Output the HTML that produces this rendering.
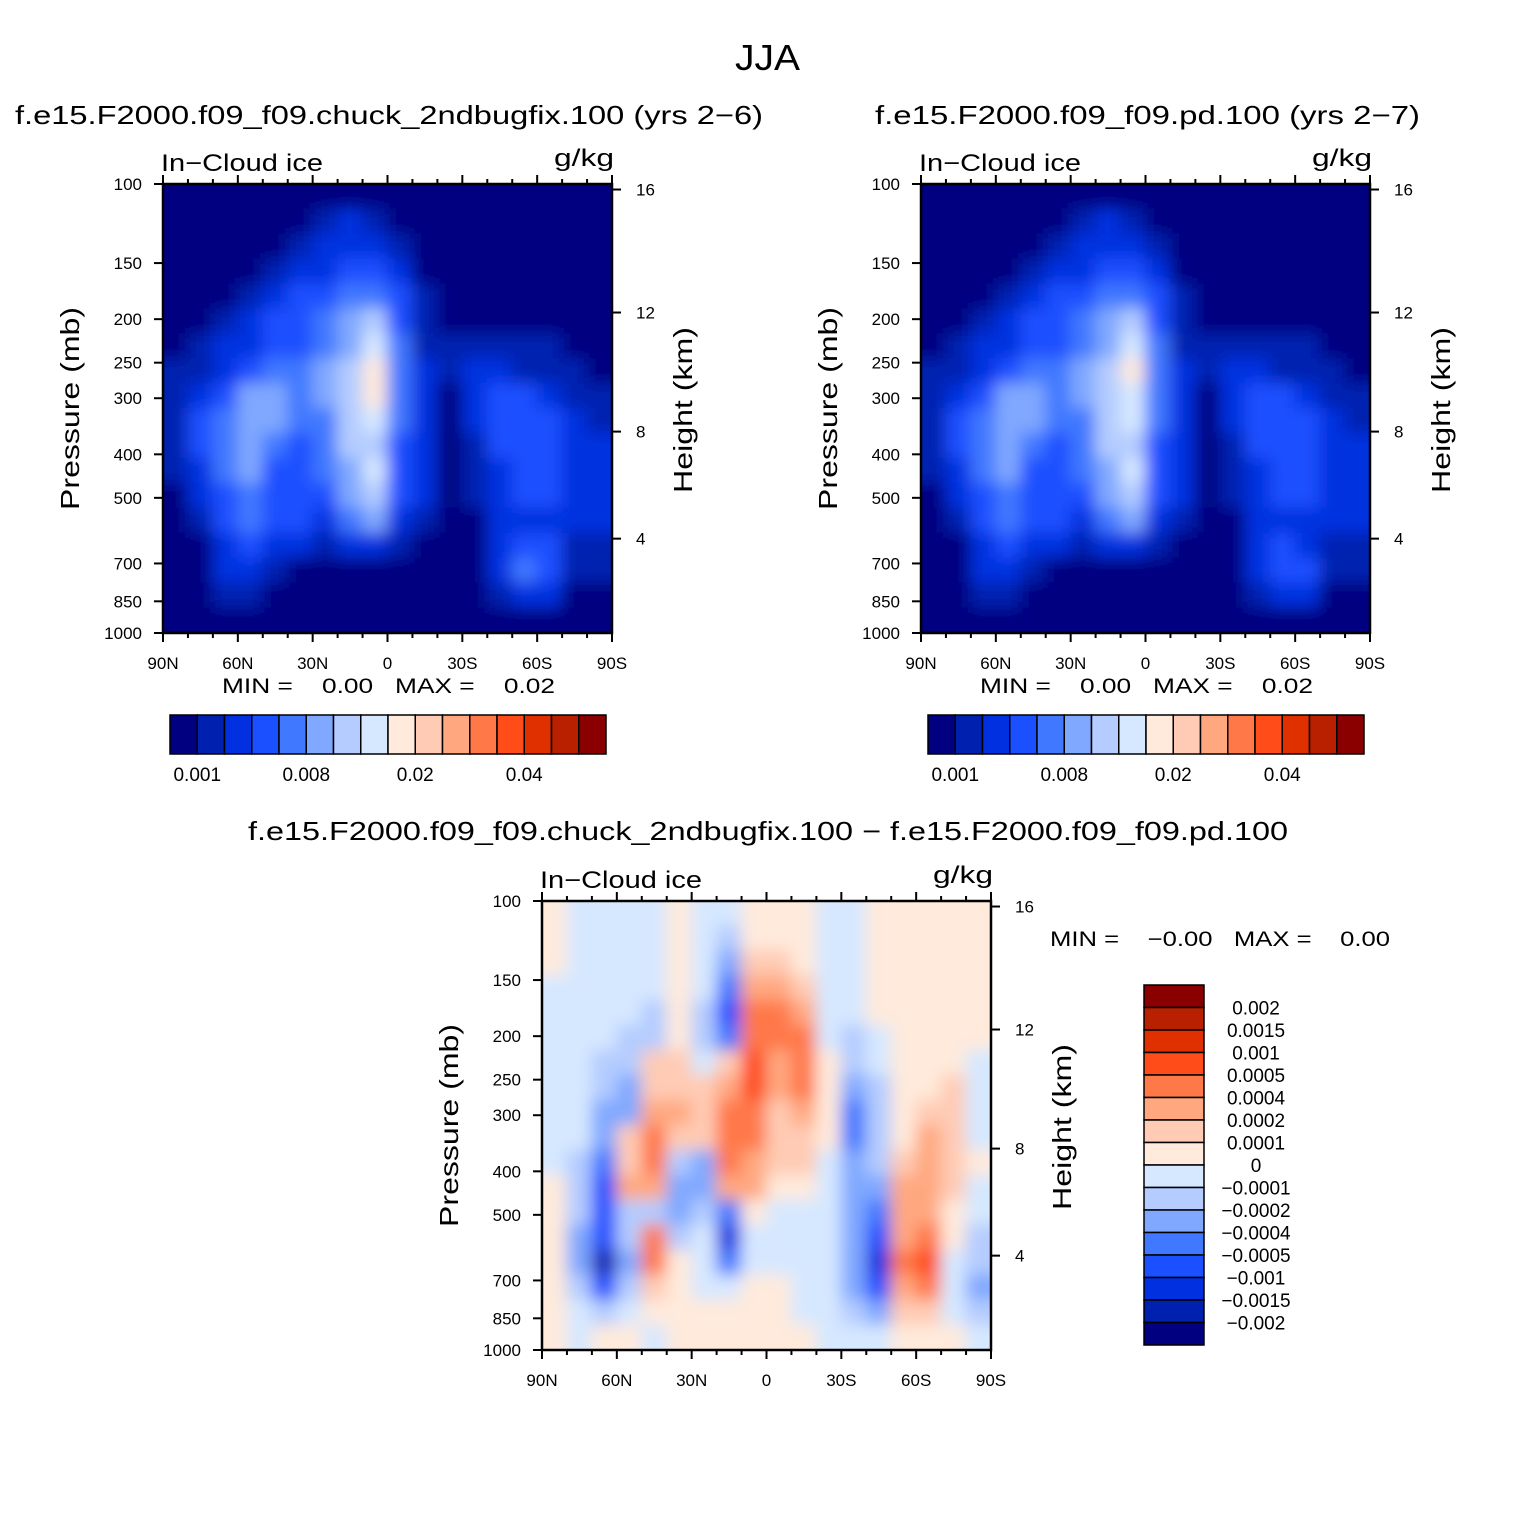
<!DOCTYPE html>
<html><head><meta charset="utf-8"><style>
html,body{margin:0;padding:0;background:#fff}
svg{display:block;font-family:"Liberation Sans",sans-serif}
</style></head><body>
<svg id="fig" width="1535" height="1533" viewBox="0 0 1535 1533" xmlns="http://www.w3.org/2000/svg">
<defs>
<filter id="soft" filterUnits="userSpaceOnUse" x="0" y="0" width="1535" height="1533"><feGaussianBlur stdDeviation="8"/></filter>
<clipPath id="c1"><rect x="163" y="184" width="449" height="449"/></clipPath>
<clipPath id="c2"><rect x="921" y="184" width="449" height="449"/></clipPath>
<clipPath id="c3"><rect x="542" y="901" width="449" height="449"/></clipPath>
</defs>
<text x="735" y="70" font-size="36" textLength="65" lengthAdjust="spacingAndGlyphs">JJA</text>
</svg>
<script>
const colors=["#000080","#0020b0","#0030e0","#1a50ff","#4078ff","#80a8ff","#b4ccff","#d6e8ff","#ffeadb","#ffcbb4","#ffa880","#ff7848","#ff4c18","#e03000","#b82000","#8a0000"];
const presLabels=["100","150","200","250","300","400","500","700","850","1000"];
const presValues=[100,150,200,250,300,400,500,700,850,1000];
const heightLabels=["16","12","8","4"];
const heightValues=[16,12,8,4];
const latLabels=["90N","60N","30N","0","30S","60S","90S"];
const barLabelsTop=["0.001","0.008","0.02","0.04"];
const diffLabels=["0.002","0.0015","0.001","0.0005","0.0004","0.0002","0.0001","0","\u22120.0001","\u22120.0002","\u22120.0004","\u22120.0005","\u22120.001","\u22120.0015","\u22120.002"];
const field1=[
[0,0,0,0,0,0,0,0,0,0,0,0,0,0,0,0,0,0],
[0,0,0,0,0,0,1,2,1,0,0,0,0,0,0,0,0,0],
[0,0,0,0,0,1,2,2,2,1,0,0,0,0,0,0,0,0],
[0,0,0,0,1,2,2,3,3,2,0,0,0,0,0,0,0,0],
[0,0,0,1,2,3,3,4,4,3,1,0,0,0,0,0,0,0],
[0,0,1,2,3,3,4,5,6,3,1,0,0,0,0,0,0,0],
[0,1,2,2,3,3,4,5,7,4,1,1,1,1,1,1,0,0],
[1,1,2,3,4,4,5,6,8,4,2,1,2,2,1,1,1,0],
[1,2,3,5,5,4,5,6,8,4,2,0,2,3,3,2,1,1],
[1,3,4,5,5,4,4,6,7,4,2,0,2,3,3,3,2,1],
[1,3,4,5,4,3,4,6,6,3,2,0,1,3,3,3,2,2],
[1,2,4,5,3,3,4,5,7,3,2,0,1,2,3,3,2,2],
[0,2,3,4,3,3,3,5,6,3,2,0,1,2,3,3,2,2],
[0,1,3,4,3,3,2,4,5,2,1,0,0,2,2,2,2,2],
[0,0,2,3,2,2,1,2,2,1,0,0,0,2,3,3,1,1],
[0,0,2,2,1,0,0,0,0,0,0,0,0,2,4,3,1,1],
[0,0,1,1,0,0,0,0,0,0,0,0,0,1,2,2,0,0],
[0,0,0,0,0,0,0,0,0,0,0,0,0,0,0,0,0,0]];
const field2=[
[0,0,0,0,0,0,0,0,0,0,0,0,0,0,0,0,0,0],
[0,0,0,0,0,0,1,2,1,0,0,0,0,0,0,0,0,0],
[0,0,0,0,0,1,2,2,2,1,0,0,0,0,0,0,0,0],
[0,0,0,0,1,2,2,3,3,2,0,0,0,0,0,0,0,0],
[0,0,0,1,2,3,3,4,4,3,1,0,0,0,0,0,0,0],
[0,0,1,2,3,3,4,5,6,3,1,0,0,0,0,0,0,0],
[0,1,2,2,3,3,4,5,7,4,1,1,1,1,1,1,0,0],
[1,1,2,3,4,4,5,6,8,4,2,1,2,2,1,1,1,0],
[1,2,3,5,5,4,5,6,7,4,2,0,2,3,3,2,1,1],
[1,3,4,5,5,4,4,6,7,4,2,0,2,3,3,3,2,1],
[1,3,4,5,4,3,4,6,6,3,2,0,1,3,3,3,2,2],
[1,2,4,5,3,3,4,5,7,3,2,0,1,2,3,3,2,2],
[0,2,3,4,3,3,3,5,6,3,2,0,1,2,3,3,2,2],
[0,1,3,4,3,3,2,4,5,2,1,0,0,2,2,2,2,2],
[0,0,2,3,2,2,1,2,2,1,0,0,0,2,3,2,1,1],
[0,0,2,2,1,0,0,0,0,0,0,0,0,2,3,3,1,1],
[0,0,1,1,0,0,0,0,0,0,0,0,0,1,2,2,0,0],
[0,0,0,0,0,0,0,0,0,0,0,0,0,0,0,0,0,0]];
const field3=[
[8,7,7,7,7,8,7,7,8,8,8,7,7,8,8,8,8,8],
[8,7,7,7,7,8,7,6,8,8,8,7,7,8,8,8,8,8],
[8,7,7,7,7,8,7,5,9,9,8,7,7,8,8,8,8,8],
[7,7,7,7,7,8,7,4,10,10,9,7,7,8,8,8,8,8],
[7,7,7,7,6,8,6,3,11,11,10,7,7,8,8,8,8,8],
[7,7,7,6,6,8,6,4,11,11,11,7,6,7,8,8,8,8],
[7,7,6,6,9,9,7,9,12,10,11,8,6,7,8,8,8,7],
[7,7,6,5,9,9,9,10,12,10,11,8,5,6,8,8,9,7],
[7,7,5,5,10,10,9,11,11,9,10,8,4,6,8,9,9,7],
[7,7,5,9,11,9,9,11,11,9,9,8,4,6,8,10,9,7],
[7,6,4,9,11,6,5,11,10,9,9,7,5,6,9,10,9,8],
[8,6,3,10,10,5,5,10,10,8,8,7,5,5,10,10,9,7],
[8,6,3,6,6,5,6,4,8,7,7,7,5,4,10,10,8,7],
[8,5,3,6,11,6,7,2,7,7,7,7,5,3,10,11,8,6],
[8,5,1,5,11,8,7,4,7,7,7,7,5,2,11,12,7,6],
[8,6,3,6,9,8,7,7,8,8,7,7,5,3,10,11,7,5],
[8,7,6,7,8,8,8,8,8,8,7,7,6,5,9,9,7,6],
[8,7,8,8,7,8,8,8,8,8,8,7,7,7,8,8,8,7]];

const NS="http://www.w3.org/2000/svg";
const fig=document.getElementById('fig');
function mk(tag,attrs,parent){const e=document.createElementNS(NS,tag);for(const k in attrs)e.setAttribute(k,attrs[k]);(parent||fig).appendChild(e);return e;}
const W=449,H=449;
function yP(p,oy){return oy+H*Math.log(p/100)/Math.log(10);}
function pOfZ(km){const z=km*1000;if(z<=11000)return 1013.25*Math.pow(1-2.25577e-5*z,5.25588);return 226.32*Math.exp(-(z-11000)/6341.6);}
function yZ(z,oy){return yP(pOfZ(z),oy);}
function xL(lat,ox){return ox+W*(90-lat)/180;}
function txt(attrs,t,name,len){const e=mk('text',attrs);e.textContent=t;if(len){e.setAttribute('textLength',len);e.setAttribute('lengthAdjust','spacingAndGlyphs');}
  
  
  return e;}

function panel(ox,oy,field,clip,tag){
  const g=mk('g',{'clip-path':'url(#'+clip+')'});
  
  
  const inner=mk('g',{filter:'url(#soft)'},g);
  const nr=field.length,nc=field[0].length,cw=W/nc,ch=H/nr,pad=30;
  for(let r=0;r<nr;r++)for(let c=0;c<nc;c++){
    let x=ox+c*cw-0.5,y=oy+r*ch-0.5,w=cw+1,h=ch+1;
    if(c===0){x-=pad;w+=pad;} if(c===nc-1){w+=pad;}
    if(r===0){y-=pad;h+=pad;} if(r===nr-1){h+=pad;}
    const cell=mk('rect',{x:x,y:y,width:w,height:h,fill:colors[field[r][c]]},inner);
    
    
  }
  const box=mk('rect',{x:ox,y:oy,width:W,height:H,fill:'none',stroke:'#000','stroke-width':2.5});
  
  
  for(let lat=90;lat>=-90;lat-=10){
    const x=xL(lat,ox),major=lat%30===0,L=major?9:5;
    mk('line',{x1:x,x2:x,y1:oy+H,y2:oy+H+L,stroke:'#000','stroke-width':2});
    mk('line',{x1:x,x2:x,y1:oy,y2:oy-L,stroke:'#000','stroke-width':2});
  }
  latLabels.forEach((t,i)=>{
    txt({x:xL(90-30*i,ox),y:oy+H+36,'font-size':17,'text-anchor':'middle'},t,'x-tick-label');
  });
  presValues.forEach((p,i)=>{
    const y=yP(p,oy);
    mk('line',{x1:ox,x2:ox-9,y1:y,y2:y,stroke:'#000','stroke-width':2});
    txt({x:ox-21,y:y+6,'font-size':17,'text-anchor':'end'},presLabels[i],'pressure-tick-label');
  });
  heightValues.forEach((z,i)=>{
    const y=yZ(z,oy);
    mk('line',{x1:ox+W,x2:ox+W+9,y1:y,y2:y,stroke:'#000','stroke-width':2});
    txt({x:ox+W+24,y:y+6,'font-size':17},heightLabels[i],'height-tick-label');
  });
  txt({x:ox-2,y:oy-13,'font-size':24},'In\u2212Cloud ice',tag+'-variable-label',162);
  txt({x:ox+W-58,y:oy-18,'font-size':24},'g/kg',tag+'-units-label',60);
  txt({transform:`translate(${ox-84},${oy+H/2}) rotate(-90)`,'font-size':26,'text-anchor':'middle'},'Pressure (mb)','y-axis-title',203);
  txt({transform:`translate(${ox+W+80},${oy+226}) rotate(-90)`,'font-size':26,'text-anchor':'middle'},'Height (km)','right-axis-title',166);
}
function minmax(x,y,a,b,name,len){const e=txt({x:x,y:y,'font-size':21},'MIN =    '+a+'   MAX =    '+b,name,len);e.setAttribute('xml:space','preserve');e.style.whiteSpace='pre';}
function hbar(x0,y0,tag){
  const w=436/16;
  colors.forEach((c,i)=>{const r=mk('rect',{x:x0+i*w,y:y0,width:w,height:39,fill:c,stroke:'#000','stroke-width':1.5});
    
    });
  barLabelsTop.forEach((t,i)=>{txt({x:x0+w+i*4*w,y:y0+66,'font-size':19,'text-anchor':'middle'},t,'colorbar-label');});
}
txt({x:15,y:124,'font-size':26},'f.e15.F2000.f09_f09.chuck_2ndbugfix.100 (yrs 2\u22126)','panel1-title',748);
txt({x:875,y:124,'font-size':26},'f.e15.F2000.f09_f09.pd.100 (yrs 2\u22127)','panel2-title',545);
txt({x:248,y:840,'font-size':26},'f.e15.F2000.f09_f09.chuck_2ndbugfix.100 \u2212 f.e15.F2000.f09_f09.pd.100','diff-title',1040);
panel(163,184,field1,'c1','panel1');
panel(921,184,field2,'c2','panel2');
panel(542,901,field3,'c3','diff');
minmax(222,693,'0.00','0.02','panel1-minmax',333);
minmax(980,693,'0.00','0.02','panel2-minmax',333);
minmax(1050,946,'\u22120.00','0.00','diff-minmax',340);
hbar(170,715,'panel1');
hbar(928,715,'panel2');
const vh=360/16;
for(let i=0;i<16;i++){const r=mk('rect',{x:1144,y:985+i*vh,width:60,height:vh,fill:colors[15-i],stroke:'#000','stroke-width':1.5});
  
  }
diffLabels.forEach((t,i)=>{txt({x:1256,y:985+(i+1)*vh+7,'font-size':19,'text-anchor':'middle'},t,'diff-colorbar-label');});
</script>
</body></html>
